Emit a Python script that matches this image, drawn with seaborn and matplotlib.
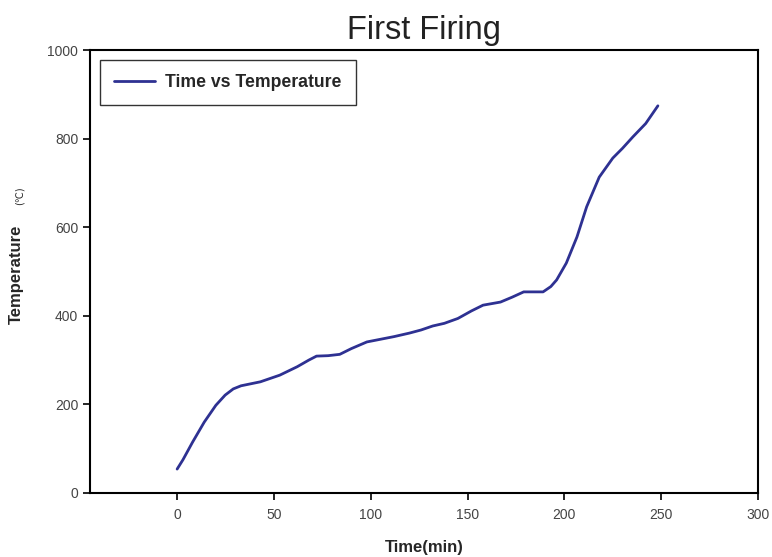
import matplotlib
matplotlib.use("Agg")
import matplotlib.pyplot as plt
import seaborn as sns
import pandas as pd

time_min = [0, 3, 8, 14, 20, 24.8, 29, 33, 43, 53, 62, 68, 72, 78, 84, 90, 98, 105, 112, 120,
            126, 132, 138, 145, 152, 158, 167, 173, 179, 185, 189, 193, 196, 201, 206.5, 211.5,
            218, 225, 230, 235.4, 242, 248.3]
temperature = [54, 75, 115, 160, 198, 221, 235, 242, 251, 266, 285, 300, 309, 310, 313, 326, 341, 347,
               353, 361, 368, 377, 383, 394, 411, 424, 431, 442, 454, 454, 454, 466, 481, 519, 578, 646,
               713, 756, 778, 804, 834, 874]

series_label = "Time vs Temperature"
x_ticks = [0, 50, 100, 150, 200, 250, 300]
y_ticks = [0, 200, 400, 600, 800, 1000]

df = pd.DataFrame({"Time": time_min, "Temperature": temperature, "series": series_label})

sns.set_style("white")
plt.rcParams['font.family'] = ['Liberation Sans', 'DejaVu Sans']

fig = plt.figure(figsize=(7.72, 5.57), dpi=100)
ax = fig.add_axes([90/772, 64/557, (758-90)/772, (493-50)/557])

sns.lineplot(data=df, x="Time", y="Temperature", hue="series", palette=["#2E3192"],
             linewidth=2, ax=ax, sort=False)

ax.set_xlim(-45, 300)
ax.set_ylim(0, 1000)
ax.set_xticks(x_ticks)
ax.set_yticks(y_ticks)
ax.tick_params(axis='both', direction='out', length=5, width=1.2, color='black',
               labelsize=10, labelcolor='#444444', bottom=True, left=True)
ax.tick_params(axis='x', pad=6)
for s in ax.spines.values():
    s.set_color('black')
    s.set_linewidth(1.5)

ax.set_title("First Firing", fontsize=23.5, pad=8, color='#222222')
ax.set_xlabel("Time(min)", fontsize=12, fontweight='bold')
ax.set_ylabel("Temperature", fontsize=12, fontweight='bold')
ax.xaxis.set_label_coords((424-90)/668, (493-540)/443)
ax.yaxis.set_label_coords((24-90)/668, (493-274)/443)
fig.text(20/772, 1 - 196/557, "(℃)", rotation=90, fontsize=7, ha='center', va='center',
         family=['DejaVu Sans'])

leg = ax.legend(loc='upper left', bbox_to_anchor=((100-90)/668, (493-60)/443), borderaxespad=0,
                frameon=True, fancybox=False, handlelength=2.3, borderpad=0.8, handletextpad=0.6,
                prop={'weight': 'bold', 'size': 12.7})
leg.get_frame().set_edgecolor('black')
leg.get_frame().set_linewidth(1.0)
for h in leg.get_lines():
    h.set_linewidth(2)

fig.savefig("out.png", dpi=100)
